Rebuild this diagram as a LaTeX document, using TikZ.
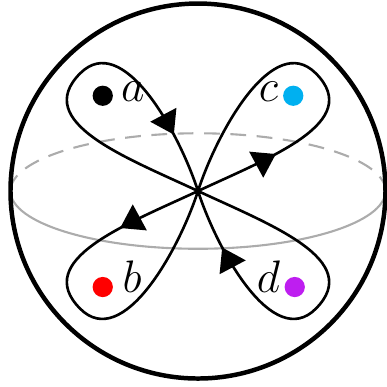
\documentclass[tikz,border=0pt]{standalone}
\usetikzlibrary{arrows.meta,decorations.markings}
\definecolor{skyc}{RGB}{0,176,240}
\definecolor{purpc}{RGB}{190,30,240}
\tikzset{
  equator/.style={gray!65,line width=0.8pt},
  petal/.style={line width=1pt,postaction={decorate},
    decoration={markings,mark=at position #1 with {\arrow{Triangle[length=8.5pt,width=11pt]}}}},
  lbl/.style={anchor=mid,font=\fontsize{17.5}{21}\selectfont}
}
\begin{document}
\begin{tikzpicture}
  \useasboundingbox (-2.64,-2.613) rectangle (2.507,2.547);
  \coordinate (o) at (0,0);
  \draw[equator,dash pattern=on 6pt off 4pt] (2.5,0) arc (0:180:2.5 and 0.77);
  \draw[equator] (-2.5,0) arc (180:360:2.5 and 0.77);
  \draw[line width=1.7pt] (o) circle (2.5);
  % four loops, mirror images of the one round a
  \foreach \sx/\sy/\p in {1/1/-0.82cm,-1/1/1.15cm,1/-1/1.15cm,-1/-1/-0.82cm}
    \draw[petal=\p,xscale=\sx,yscale=\sy] (o) .. controls +(155:1.06) and +(225:0.92) .. (-1.57,1.57)
      .. controls +(45:0.8) and +(108:0.84) .. (o);
  \fill (-1.27,1.27) circle (0.135);
  \fill[skyc] (1.27,1.27) circle (0.135);
  \fill[red] (-1.27,-1.28) circle (0.135);
  \fill[purpc] (1.29,-1.28) circle (0.135);
  \node[lbl] (a) at (-0.87,1.27) {$a$};
  \node[lbl] (c) at (0.94,1.27) {$c$};
  \node[lbl] (b) at (-0.88,-1.28) {$b$};
  \node[lbl] (d) at (0.94,-1.28) {$d$};
\end{tikzpicture}
\end{document}
